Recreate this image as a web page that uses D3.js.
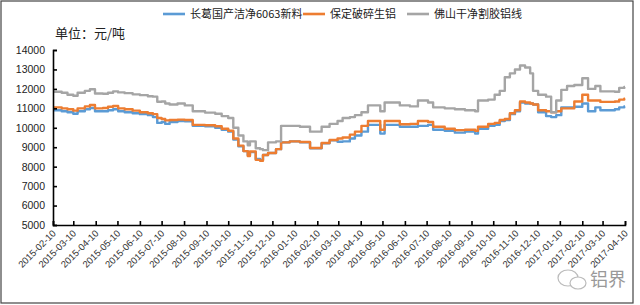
<!DOCTYPE html>
<html><head><meta charset="utf-8">
<script src="https://cdn.jsdelivr.net/npm/d3@7"></script>
<style>
html,body{margin:0;padding:0;background:#fff;}
svg{display:block;font-family:"Microsoft YaHei","Noto Sans CJK SC",sans-serif;}
</style></head>
<body><svg id="c" width="640" height="305"></svg>
<script>
const seriesNames = ["长葛国产洁净6063新料", "保定破碎生铝", "佛山干净割胶铝线"];
const seriesColors = ["#5B9BD5", "#ED7D31", "#A5A5A5"];
const dates = ["2015-02-10","2015-02-22","2015-03-02","2015-03-10","2015-03-16","2015-03-26","2015-04-02","2015-04-09","2015-04-20","2015-04-27","2015-05-04","2015-05-11","2015-05-20","2015-05-31","2015-06-10","2015-06-21","2015-06-28","2015-07-04","2015-07-10","2015-07-15","2015-07-21","2015-08-01","2015-08-11","2015-08-22","2015-09-08","2015-09-22","2015-10-01","2015-10-10","2015-10-17","2015-10-24","2015-10-31","2015-11-06","2015-11-09","2015-11-17","2015-11-23","2015-11-27","2015-12-04","2015-12-15","2015-12-22","2016-01-03","2016-01-17","2016-01-31","2016-02-16","2016-02-27","2016-03-09","2016-03-16","2016-03-26","2016-04-02","2016-04-11","2016-04-20","2016-05-07","2016-05-13","2016-06-03","2016-06-17","2016-06-28","2016-07-12","2016-07-19","2016-08-04","2016-08-18","2016-09-01","2016-09-15","2016-09-19","2016-10-03","2016-10-12","2016-10-19","2016-10-26","2016-11-02","2016-11-09","2016-11-16","2016-11-23","2016-11-30","2016-12-04","2016-12-11","2016-12-22","2016-12-29","2017-01-05","2017-01-12","2017-01-20","2017-01-30","2017-02-10","2017-02-18","2017-02-28","2017-03-07","2017-03-27","2017-04-02","2017-04-09","2017-04-10"];
const changge = [10900,10850,10800,10720,10850,10950,11020,10850,10850,10900,10950,10850,10800,10750,10700,10650,10550,10250,10300,10200,10300,10350,10330,10100,10080,10000,9900,9800,9400,9050,8800,8600,8750,8400,8350,8600,8700,8900,9250,9300,9250,8950,9200,9350,9280,9300,9450,9600,9800,10150,9700,10150,10050,10050,10100,10150,9900,9850,9750,9800,9700,9950,10100,10150,10350,10400,10700,10850,11300,11250,11250,11200,10800,10600,10550,10650,11050,11050,11080,11250,10850,11050,10900,10950,11050,11100,11100];
const baoding = [11050,11000,10950,10880,11000,11100,11170,11000,11020,11080,11120,11000,10950,10880,10800,10750,10700,10500,10450,10380,10400,10420,10400,10150,10130,10080,9950,9850,9450,9080,8800,8550,8780,8350,8300,8600,8700,8900,9250,9300,9270,8960,9220,9370,9450,9500,9650,9800,10100,10350,9900,10350,10180,10200,10350,10300,10050,9950,9880,9900,9850,10050,10200,10250,10400,10450,10750,10900,11350,11300,11250,11200,10900,10850,10800,10850,11000,11000,11350,11700,11400,11400,11330,11350,11450,11500,11500];
const foshan = [11850,11800,11700,11650,11800,11900,11980,11760,11750,11800,11870,11820,11780,11720,11680,11620,11600,11340,11350,11250,11200,11250,11150,10850,10780,10720,10600,10500,10000,9600,9300,9100,9300,8950,8900,8850,9250,9300,10100,10100,10050,9800,10050,10200,10350,10500,10550,10650,10800,11150,10850,11300,11150,11100,11400,11300,11050,11000,10950,10900,10850,11400,11450,11700,11900,12600,12800,13000,13200,13100,12800,11900,11700,11600,10800,11400,11950,12150,12200,12550,12000,12150,11870,11850,12050,12100,12100];
const yTicks = [5000,6000,7000,8000,9000,10000,11000,12000,13000,14000];
const xTickLabels = ["2015-02-10","2015-03-10","2015-04-10","2015-05-10","2015-06-10","2015-07-10","2015-08-10","2015-09-10","2015-10-10","2015-11-10","2015-12-10","2016-01-10","2016-02-10","2016-03-10","2016-04-10","2016-05-10","2016-06-10","2016-07-10","2016-08-10","2016-09-10","2016-10-10","2016-11-10","2016-12-10","2017-01-10","2017-02-10","2017-03-10","2017-04-10"];
const unitLabel = "单位：元/吨";
const watermark = "铝界";

const parse = d3.utcParse("%Y-%m-%d");
const svg = d3.select("#c");
const L = 53, R = 625, T = 50, B = 225;

svg.append("rect").attr("x",1).attr("y",1).attr("width",632).attr("height",302)
  .attr("fill","#fff").attr("stroke","#444").attr("stroke-width",1.2);

const x = d3.scaleUtc().domain([parse(xTickLabels[0]), parse(xTickLabels[xTickLabels.length-1])]).range([L,R]);
const y = d3.scaleLinear().domain([5000,14000]).range([B,T]);

const all = [changge, baoding, foshan];
const line = d3.line().x(d=>x(d.date)).y(d=>y(d.v)).curve(d3.curveStepAfter);
all.forEach((vals,i)=>{
  const data = dates.map((dt,j)=>({date:parse(dt), v:vals[j]}));
  svg.append("path").datum(data).attr("d",line).attr("fill","none")
    .attr("stroke",seriesColors[i]).attr("stroke-width",2.4).attr("stroke-linejoin","round");
});

// y axis
const yAxis = svg.append("g").attr("transform",`translate(${L},0)`)
  .call(d3.axisRight(y).tickValues(yTicks).tickSize(4).tickFormat(d3.format("d")));
yAxis.select(".domain").attr("stroke","#000").attr("stroke-width",1.6);
yAxis.selectAll(".tick line").attr("stroke","#000").attr("stroke-width",1.6);
yAxis.selectAll(".tick text").attr("x",-8).attr("text-anchor","end")
  .attr("font-size",10.5).attr("fill","#222").attr("font-family","Liberation Sans, Arial, sans-serif");

// x axis
const xAxis = svg.append("g").attr("transform",`translate(0,${B})`)
  .call(d3.axisTop(x).tickValues(xTickLabels.map(parse)).tickSize(4).tickFormat(d3.utcFormat("%Y-%m-%d")));
xAxis.select(".domain").attr("stroke","#000").attr("stroke-width",1.6);
xAxis.selectAll(".tick line").attr("stroke","#000").attr("stroke-width",1.6);
xAxis.selectAll(".tick text")
  .attr("y",0).attr("dy",0)
  .attr("transform","translate(3,9) rotate(-45)")
  .attr("text-anchor","end").attr("font-size",9.5).attr("fill","#333")
  .attr("font-family","Liberation Sans, Arial, sans-serif");

// unit label
svg.append("text").attr("x",55).attr("y",38).attr("font-size",13).attr("fill","#222").text(unitLabel);

// legend
const legX = [163, 303, 407];
seriesNames.forEach((n,i)=>{
  const g = svg.append("g").attr("transform",`translate(${legX[i]},14)`);
  g.append("line").attr("x1",0).attr("x2",22).attr("y1",0).attr("y2",0)
    .attr("stroke",seriesColors[i]).attr("stroke-width",2.6);
  g.append("text").attr("x",27).attr("y",4).attr("font-size",11).attr("fill","#222").text(n);
});

// watermark
const wm = svg.append("g").attr("transform","translate(558,275)");
wm.append("ellipse").attr("cx",10).attr("cy",3).attr("rx",10).attr("ry",8).attr("fill","none").attr("stroke","#bbb").attr("stroke-width",1.2);
wm.append("ellipse").attr("cx",20).attr("cy",8).attr("rx",8).attr("ry",6).attr("fill","#fff").attr("stroke","#bbb").attr("stroke-width",1.2);
wm.append("text").attr("x",32).attr("y",11).attr("font-size",18).attr("fill","#999").text(watermark);
</script></body></html>
